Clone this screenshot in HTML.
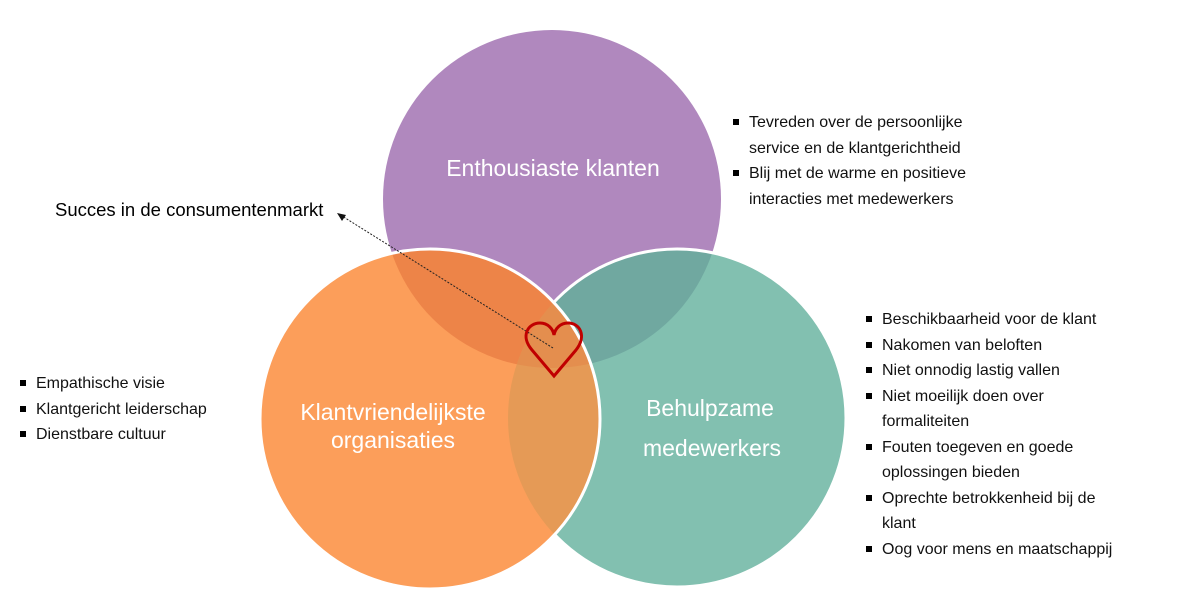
<!DOCTYPE html>
<html><head><meta charset="utf-8"><style>
body{margin:0;width:1182px;height:614px;background:#fff;overflow:hidden;position:relative;font-family:"Liberation Sans",sans-serif}
svg{position:absolute;left:0;top:0}
.l{position:absolute;font-size:16px;color:#111;line-height:25.5px;margin:0;padding:0;list-style:none}
.l li{padding-left:16px;position:relative}
.l li:before{content:"";position:absolute;left:0;top:9px;width:6px;height:6px;background:#000}
</style></head><body>
<svg width="1182" height="614">
<defs>
<clipPath id="cp"><circle cx="552" cy="199" r="169"/></clipPath>
<clipPath id="co"><circle cx="430" cy="419" r="170"/></clipPath>
<clipPath id="ct"><circle cx="677" cy="418" r="169"/></clipPath>
<mask id="notO"><rect width="1182" height="614" fill="#fff"/><circle cx="430" cy="419" r="170" fill="#000"/></mask>
</defs>
<circle cx="552" cy="199" r="169" fill="#b088be"/>
<circle cx="677" cy="418" r="169" fill="#82c0b0"/>
<circle cx="677" cy="418" r="169" fill="#70a8a0" clip-path="url(#cp)"/>
<circle cx="430" cy="419" r="170" fill="#fc9e5a"/>
<circle cx="430" cy="419" r="170" fill="#ed8448" clip-path="url(#cp)"/>
<g clip-path="url(#ct)"><circle cx="430" cy="419" r="170" fill="#e59a56"/></g>
<g clip-path="url(#cp)"><g clip-path="url(#ct)"><circle cx="430" cy="419" r="170" fill="#e48e4e"/></g></g>
<circle cx="677" cy="418" r="169" fill="none" stroke="#fff" stroke-width="3" mask="url(#notO)"/>
<circle cx="430" cy="419" r="170" fill="none" stroke="#fff" stroke-width="3"/>
<line x1="553" y1="348" x2="342" y2="216" stroke="#222" stroke-width="1" stroke-dasharray="2,1.5"/>
<polygon points="337,213 346,215 342,221" fill="#111"/>
<path d="M554,376 L532,350 C520,336 528,323 540,323 C548,323 553,329 554,335 C555,329 560,323 568,323 C580,323 587,336 576,350 Z" fill="none" stroke="#c00000" stroke-width="3" stroke-linejoin="miter"/>
<g fill="#fff" font-family="Liberation Sans,sans-serif" font-size="23" text-anchor="middle">
<text x="553" y="176">Enthousiaste klanten</text>
<text x="393" y="420">Klantvriendelijkste</text>
<text x="393" y="448">organisaties</text>
<text x="710" y="416">Behulpzame</text>
<text x="712" y="456">medewerkers</text>
</g>
<text x="55" y="216" font-size="18.5" fill="#000">Succes in de consumentenmarkt</text>
</svg>
<ul class="l" style="left:733px;top:110px"><li>Tevreden over de persoonlijke<br>service en de klantgerichtheid</li><li>Blij met de warme en positieve<br>interacties met medewerkers</li></ul>
<ul class="l" style="left:20px;top:371px"><li>Empathische visie</li><li>Klantgericht leiderschap</li><li>Dienstbare cultuur</li></ul>
<ul class="l" style="left:866px;top:307px"><li>Beschikbaarheid voor de klant</li><li>Nakomen van beloften</li><li>Niet onnodig lastig vallen</li><li>Niet moeilijk doen over<br>formaliteiten</li><li>Fouten toegeven en goede<br>oplossingen bieden</li><li>Oprechte betrokkenheid bij de<br>klant</li><li>Oog voor mens en maatschappij</li></ul>
</body></html>
